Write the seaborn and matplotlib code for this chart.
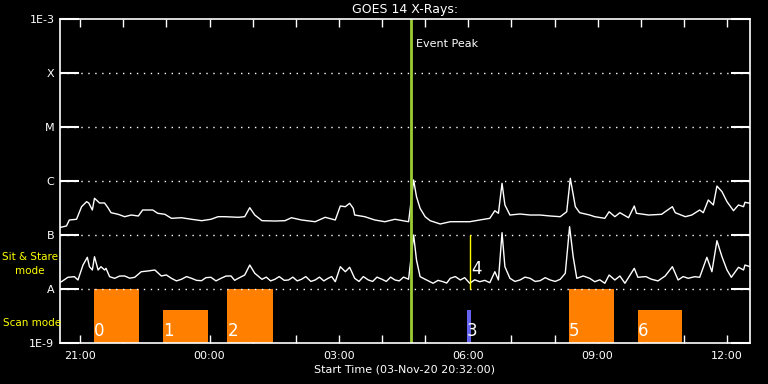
import pandas as pd
import matplotlib
matplotlib.use('Agg')
import matplotlib.pyplot as plt
import matplotlib.dates as mdates
import seaborn as sns

# start of the plotted window
start_time = '2020-11-03 20:32'

# GOES long channel (1-8 A): minutes after start, log10 flux (W/m^2)
long_min = [0, 1, 9, 13, 23, 30, 37, 40, 45, 48, 55, 62, 67, 71, 81, 90, 99, 109, 115, 129,
            136, 146, 155, 169, 183, 197, 210, 220, 229, 248, 257, 264, 271, 281, 299, 313, 322,
            336, 355, 369, 383, 390, 397, 403, 408, 410, 424, 438, 452, 466, 485, 487, 492, 496,
            501, 508, 515, 529, 543, 557, 570, 584, 598, 605, 610, 615, 619, 626, 640, 654, 668,
            682, 696, 705, 710, 717, 723, 737, 744, 758, 764, 772, 779, 791, 799, 802, 819, 837,
            842, 852, 856, 870, 879, 890, 895, 902, 909, 914, 921, 928, 937, 944, 951, 953, 960]
long_log = [-6.86, -6.857, -6.833, -6.722, -6.709, -6.476, -6.383, -6.407, -6.537, -6.320, -6.407,
            -6.407, -6.5, -6.587, -6.617, -6.661, -6.630, -6.648, -6.537, -6.537, -6.598, -6.617,
            -6.691, -6.680, -6.709, -6.735, -6.709, -6.661, -6.661, -6.672, -6.661, -6.494, -6.630,
            -6.735, -6.741, -6.735, -6.680, -6.722, -6.754, -6.672, -6.722, -6.463, -6.476, -6.413,
            -6.506, -6.630, -6.661, -6.722, -6.754, -6.709, -6.754, -6.537, -5.981, -6.291, -6.506,
            -6.661, -6.735, -6.796, -6.754, -6.754, -6.754, -6.722, -6.691, -6.550, -6.598, -6.043,
            -6.444, -6.630, -6.611, -6.630, -6.630, -6.648, -6.661, -6.569, -5.950, -6.476, -6.587,
            -6.630, -6.661, -6.691, -6.569, -6.661, -6.587, -6.680, -6.463, -6.598, -6.630, -6.617,
            -6.569, -6.476, -6.587, -6.661, -6.630, -6.537, -6.587, -6.352, -6.444, -6.093, -6.198,
            -6.383, -6.550, -6.444, -6.476, -6.394, -6.413]

# GOES short channel (0.5-4 A)
short_min = [0, 2, 11, 20, 25, 32, 38, 41, 45, 48, 53, 57, 62, 64, 69, 76, 83, 90, 97, 104,
             113, 122, 132, 141, 148, 155, 162, 169, 176, 183, 190, 197, 203, 210, 217, 224, 231,
             238, 243, 248, 257, 264, 271, 281, 287, 293, 299, 305, 312, 318, 324, 330, 336, 342,
             349, 355, 361, 367, 373, 378, 383, 390, 397, 403, 410, 416, 422, 429, 435, 441, 448,
             454, 460, 466, 472, 478, 485, 487, 492, 496, 501, 508, 519, 526, 533, 538, 543, 550,
             557, 563, 570, 577, 584, 591, 598, 605, 610, 615, 619, 626, 633, 640, 647, 654, 661,
             668, 675, 682, 689, 696, 703, 709, 714, 719, 728, 737, 744, 751, 758, 764, 772, 779,
             786, 799, 804, 815, 823, 832, 842, 852, 860, 867, 874, 883, 890, 900, 907, 914, 921,
             928, 934, 944, 951, 953, 960]
short_log = [-7.87, -7.865, -7.783, -7.772, -7.833, -7.556, -7.413, -7.587, -7.648, -7.402,
             -7.648, -7.587, -7.648, -7.617, -7.772, -7.802, -7.76, -7.759, -7.80, -7.783,
             -7.680, -7.667, -7.648, -7.759, -7.74, -7.802, -7.85, -7.820, -7.77, -7.802,
             -7.84, -7.846, -7.79, -7.783, -7.85, -7.802, -7.76, -7.759, -7.84, -7.802,
             -7.741, -7.556, -7.709, -7.820, -7.78, -7.85, -7.820, -7.77, -7.84, -7.833,
             -7.78, -7.85, -7.820, -7.77, -7.86, -7.833, -7.78, -7.85, -7.802, -7.77,
             -7.865, -7.587, -7.680, -7.598, -7.802, -7.86, -7.77, -7.833, -7.86, -7.78,
             -7.820, -7.86, -7.78, -7.833, -7.85, -7.78, -7.820, -7.587, -7.0, -7.463,
             -7.772, -7.820, -7.894, -7.84, -7.865, -7.89, -7.802, -7.77, -7.833, -7.79,
             -7.894, -7.83, -7.865, -7.84, -7.883, -7.680, -7.833, -6.957, -7.587, -7.802,
             -7.86, -7.833, -7.78, -7.802, -7.86, -7.846, -7.79, -7.833, -7.86, -7.820,
             -7.709, -6.846, -7.402, -7.802, -7.759, -7.802, -7.865, -7.83, -7.894, -7.741,
             -7.833, -7.759, -7.894, -7.617, -7.783, -7.77, -7.820, -7.85, -7.759, -7.587,
             -7.833, -7.77, -7.802, -7.772, -7.783, -7.413, -7.680, -7.106, -7.402, -7.648,
             -7.783, -7.598, -7.648, -7.556, -7.587]

# observation rasters
raster_labels = ['0', '1', '2', '3', '5', '6']
raster_start = ['2020-11-03 21:19', '2020-11-03 22:55', '2020-11-04 00:25',
                '2020-11-04 05:58', '2020-11-04 08:20', '2020-11-04 09:56']
raster_end = ['2020-11-03 22:22', '2020-11-03 23:58', '2020-11-04 01:28',
              '2020-11-04 06:04', '2020-11-04 09:23', '2020-11-04 10:58']
raster_top = [1e-8, 4e-9, 1e-8, 4e-9, 1e-8, 4e-9]
raster_colors = ['#ff8000', '#ff8000', '#ff8000', '#6464f0', '#ff8000', '#ff8000']

# sit & stare observation
sit_label = '4'
sit_time = '2020-11-04 06:03'

event_peak = '2020-11-04 04:41'

level_values = [1e-9, 1e-8, 1e-7, 1e-6, 1e-5, 1e-4, 1e-3]
level_labels = ['1E-9', 'A', 'B', 'C', 'M', 'X', '1E-3']

# build a long-form table for seaborn
t0 = pd.Timestamp(start_time)
df_long = pd.DataFrame({'time': t0 + pd.to_timedelta(long_min, unit='min'),
                        'flux': [10 ** v for v in long_log], 'channel': 'long'})
df_short = pd.DataFrame({'time': t0 + pd.to_timedelta(short_min, unit='min'),
                         'flux': [10 ** v for v in short_log], 'channel': 'short'})
data = pd.concat([df_long, df_short], ignore_index=True)

sns.set_style('dark', {'axes.facecolor': 'black', 'figure.facecolor': 'black',
                       'axes.edgecolor': 'white', 'text.color': 'white',
                       'xtick.color': 'white', 'ytick.color': 'white',
                       'axes.labelcolor': 'white'})
plt.rcParams['font.family'] = ['DejaVu Sans']

fig = plt.figure(figsize=(7.68, 3.84), dpi=100)
ax = fig.add_axes([60 / 768, 41 / 384, 690 / 768, 324 / 384])
ax.set_facecolor('black')

# raster bars
for lab, s, e, top, c in zip(raster_labels, raster_start, raster_end, raster_top, raster_colors):
    x0 = mdates.date2num(pd.Timestamp(s))
    x1 = mdates.date2num(pd.Timestamp(e))
    ax.bar(x0, top - 1e-9, width=x1 - x0, bottom=1e-9, align='edge', color=c, linewidth=0)
    ax.text(x0, 1.12e-9, lab, color='white', fontsize=12, ha='left', va='bottom')

sns.lineplot(data=data, x='time', y='flux', hue='channel', palette=['white', 'white'],
             linewidth=1, legend=False, ax=ax, estimator=None)

# dotted level lines
for v in level_values[1:-1]:
    ax.axhline(v, color='white', linestyle=(0, (1, 4)), linewidth=1)

# sit & stare marker
st = mdates.date2num(pd.Timestamp(sit_time))
ax.plot([st, st], [1e-8, 1e-7], color='yellow', linewidth=1)
ax.text(st + 0.0008, 1.6e-8, sit_label, color='white', fontsize=12, ha='left', va='bottom')

# event peak
ep = mdates.date2num(pd.Timestamp(event_peak))
ax.axvline(ep, color='#9acd32', linewidth=2)
ax.text(ep + 0.0045, 3.5e-4, 'Event Peak', color='white', fontsize=8, ha='left', va='center')

ax.set_yscale('log')
ax.set_ylim(1e-9, 1e-3)
ax.set_yticks(level_values)
ax.set_yticklabels(level_labels)
ax.minorticks_off()
ax.tick_params(axis='y', direction='in', length=14, width=1.5, left=True, right=True,
               labelsize=8, pad=4)

ax.set_xlim(t0, t0 + pd.Timedelta(hours=16))
ax.xaxis.set_major_locator(mdates.HourLocator(byhour=range(0, 24, 3)))
ax.xaxis.set_minor_locator(mdates.HourLocator())
ax.xaxis.set_major_formatter(mdates.DateFormatter('%H:%M'))
ax.tick_params(axis='x', which='both', direction='in', length=6, width=1, top=True,
               bottom=True, labelsize=8, pad=6)

for sp in ax.spines.values():
    sp.set_color('white')
    sp.set_linewidth(1.2)

ax.set_xlabel('Start Time (03-Nov-20 20:32:00)', fontsize=8, labelpad=2)
ax.set_ylabel('')
ax.set_title('GOES 14 X-Rays:', fontsize=9, color='white', pad=4)

fig.text(30 / 768, 1 - 264 / 384, 'Sit & Stare\nmode', color='yellow', fontsize=7.5,
         ha='center', va='center', linespacing=1.5)
fig.text(3 / 768, 1 - 323 / 384, 'Scan mode', color='yellow', fontsize=7.5, ha='left',
         va='center')

fig.savefig('out.png', dpi=100, facecolor='black')
